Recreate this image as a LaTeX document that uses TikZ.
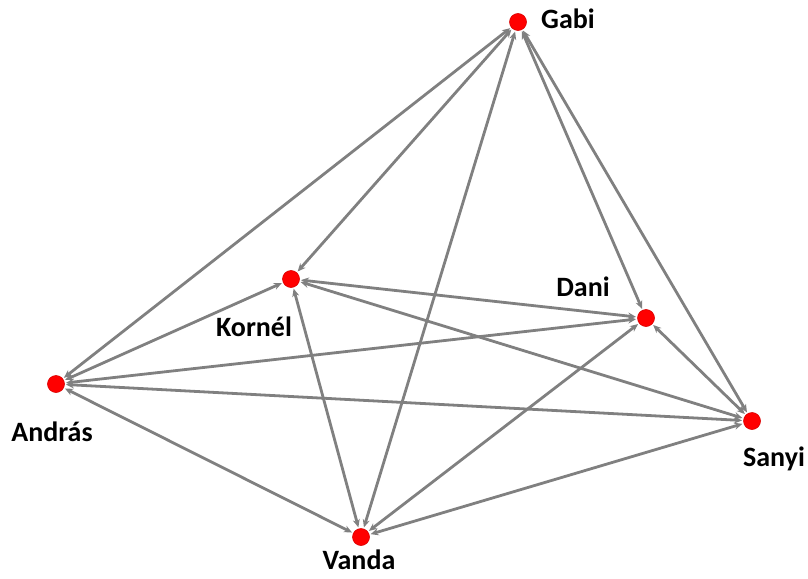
\documentclass[tikz,border=0pt]{standalone}
\usepackage{fontspec}
\setmainfont{Carlito}
\usetikzlibrary{arrows.meta}
\begin{document}
\begin{tikzpicture}[x=1pt,y=-1pt,
  vert/.style={circle,fill=red,draw=red!85!black,line width=0.6pt,minimum size=17pt,inner sep=0pt,outer sep=1.5pt},
  lbl/.style={font=\fontsize{28}{32}\selectfont\bfseries,inner sep=0pt},
  edge/.style={draw=black!50,line width=2.8pt,{Stealth[length=8pt,width=7pt]}-{Stealth[length=8pt,width=7pt]}}]
\useasboundingbox (0,0) rectangle (808,578);
\node[vert] (G) at (518,22) {};
\node[vert] (K) at (291,279) {};
\node[vert] (D) at (646,318) {};
\node[vert] (A) at (56,384) {};
\node[vert] (S) at (752,421) {};
\node[vert] (V) at (361,537) {};
\node[lbl] (lG) at (568,19) {Gabi};
\node[lbl] (lK) at (254,327) {Kornél};
\node[lbl] (lD) at (583,287) {Dani};
\node[lbl] (lA) at (52,432) {András};
\node[lbl] (lS) at (774,459) {Sanyi};
\node[lbl,anchor=base] (lV) at (359,569) {Vanda};
\path[edge] (A) -- (G);
\path[edge] (K) -- (G);
\path[edge] (V) -- (G);
\path[edge] (D) -- (G);
\path[edge] (S) -- (G);
\path[edge] (A) -- (K);
\path[edge] (K) -- (D);
\path[edge] (K) -- (S);
\path[edge] (K) -- (V);
\path[edge] (A) -- (D);
\path[edge] (A) -- (S);
\path[edge] (A) -- (V);
\path[edge] (D) -- (V);
\path[edge] (S) -- (V);
\path[edge] (S) -- (D);
\end{tikzpicture}
\end{document}
